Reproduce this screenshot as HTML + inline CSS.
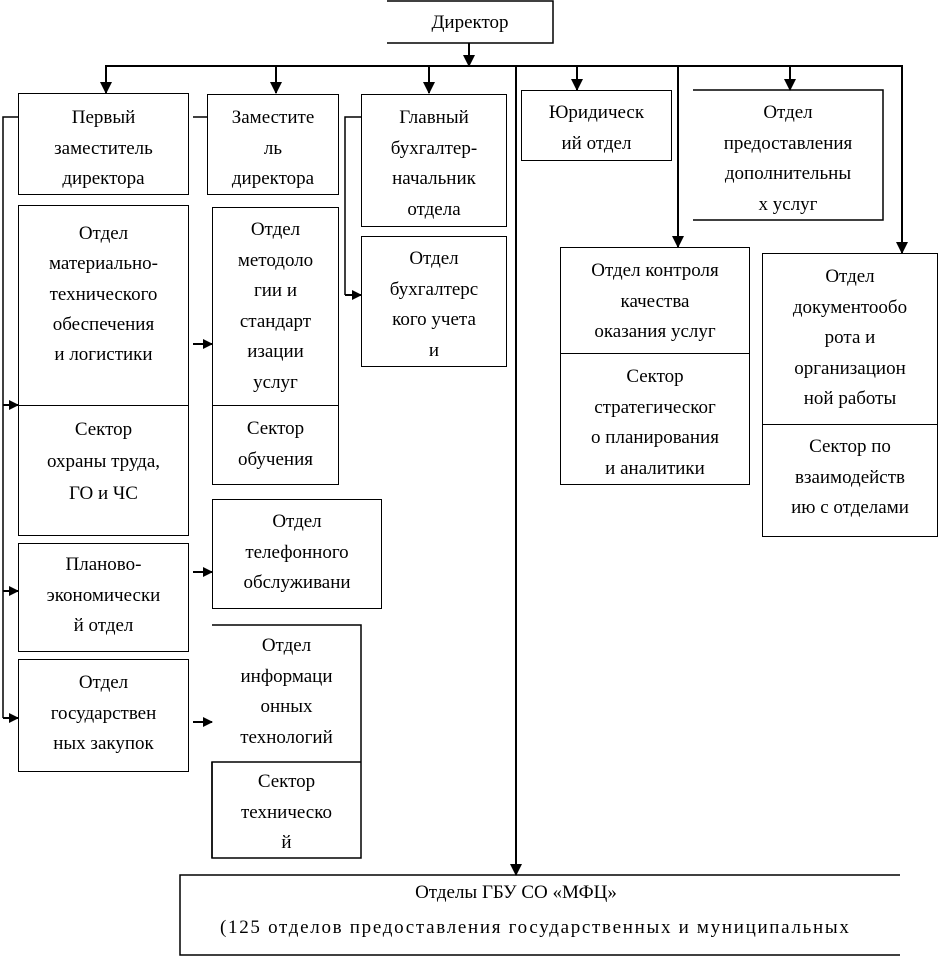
<!DOCTYPE html>
<html><head><meta charset="utf-8"><style>
body{margin:0;width:938px;height:956px;background:#fff;position:relative;overflow:hidden;font-family:"Liberation Serif",serif;color:#000}
.b{position:absolute;box-sizing:border-box;border:1.5px solid #000;text-align:center;font-size:19px;line-height:30.5px;white-space:nowrap;overflow:hidden}
.t{position:absolute;text-align:center;font-size:19px;line-height:30.5px;white-space:nowrap}
svg{position:absolute;left:0;top:0}
</style></head><body>
<svg width="938" height="956">
<defs><marker id="a" markerWidth="10" markerHeight="10" refX="9" refY="5" orient="auto" markerUnits="userSpaceOnUse"><path d="M0,0 L10,5 L0,10 z" fill="#000"/></marker>
<marker id="d" markerWidth="12" markerHeight="13" refX="11" refY="6" orient="auto" markerUnits="userSpaceOnUse"><path d="M0,0 L12,6 L0,12 z" fill="#000"/></marker></defs>
<g stroke="#000" stroke-width="2" fill="none">
<path d="M387,1 H553 V43 H387" stroke-width="1.5"/>
<line x1="469" y1="43" x2="469" y2="66" marker-end="url(#d)"/>
<line x1="105" y1="66" x2="903" y2="66"/>
<line x1="106" y1="66" x2="106" y2="93" marker-end="url(#d)"/>
<line x1="276" y1="66" x2="276" y2="93" marker-end="url(#d)"/>
<line x1="429" y1="66" x2="429" y2="93" marker-end="url(#d)"/>
<line x1="577" y1="66" x2="577" y2="90" marker-end="url(#d)"/>
<line x1="790" y1="66" x2="790" y2="90" marker-end="url(#d)"/>
<line x1="678" y1="66" x2="678" y2="247" marker-end="url(#d)"/>
<line x1="902" y1="66" x2="902" y2="253" marker-end="url(#d)"/>
<line x1="516" y1="66" x2="516" y2="875" marker-end="url(#d)"/>
<path d="M18,117 H3 V718" stroke-width="1.5"/>
<line x1="3" y1="405" x2="18" y2="405" marker-end="url(#a)"/>
<line x1="3" y1="591" x2="18" y2="591" marker-end="url(#a)"/>
<line x1="3" y1="718" x2="18" y2="718" marker-end="url(#a)"/>
<line x1="193" y1="117" x2="207" y2="117" stroke-width="1.5"/>
<line x1="193" y1="344" x2="212" y2="344" marker-end="url(#a)"/>
<line x1="193" y1="572" x2="212" y2="572" marker-end="url(#a)"/>
<line x1="193" y1="722" x2="212" y2="722" marker-end="url(#a)"/>
<path d="M361,117 H345 V295" stroke-width="1.5"/>
<line x1="345" y1="295" x2="361" y2="295" marker-end="url(#a)"/>
<path d="M693,90 H883 V220 H693" stroke-width="1.5"/>
<path d="M212,625 H361 V858 H212 V762 H361" stroke-width="1.5"/>
<line x1="212" y1="762" x2="212" y2="858" stroke-width="1.5"/>
<path d="M900,875 H180 V955 H900" stroke-width="1.5"/>
</g></svg>
<div class="t" style="left:387px;top:8px;width:166px">Директор</div>

<div class="b" style="left:18px;top:93px;width:171px;height:102px;padding-top:9px">Первый<br>заместитель<br>директора</div>
<div class="b" style="left:207px;top:94px;width:132px;height:101px;padding-top:8px">Заместите<br>ль<br>директора</div>
<div class="b" style="left:361px;top:94px;width:146px;height:133px;padding-top:8px">Главный<br>бухгалтер-<br>начальник<br>отдела</div>
<div class="b" style="left:361px;top:236px;width:146px;height:131px;padding-top:7px">Отдел<br>бухгалтерс<br>кого учета<br>и</div>

<div class="b" style="left:18px;top:205px;width:171px;height:331px;padding-top:13px;line-height:30.3px">Отдел<br>материально-<br>технического<br>обеспечения<br>и логистики</div>
<div class="b" style="left:18px;top:405px;width:171px;height:131px;padding-top:8px;line-height:32px">Сектор<br>охраны труда,<br>ГО и ЧС</div>
<div class="b" style="left:212px;top:207px;width:127px;height:278px;padding-top:7px">Отдел<br>методоло<br>гии и<br>стандарт<br>изации<br>услуг</div>
<div class="b" style="left:212px;top:405px;width:127px;height:80px;padding-top:8px">Сектор<br>обучения</div>

<div class="b" style="left:18px;top:543px;width:171px;height:109px;padding-top:6px">Планово-<br>экономически<br>й отдел</div>
<div class="b" style="left:18px;top:659px;width:171px;height:113px;padding-top:8px">Отдел<br>государствен<br>ных закупок</div>
<div class="b" style="left:212px;top:499px;width:170px;height:110px;padding-top:7px">Отдел<br>телефонного<br>обслуживани</div>
<div class="t" style="left:212px;top:631px;width:149px">Отдел<br>информаци<br>онных<br>технологий</div>
<div class="t" style="left:212px;top:767px;width:149px">Сектор<br>техническо<br>й</div>

<div class="b" style="left:521px;top:90px;width:151px;height:71px;padding-top:7px">Юридическ<br>ий отдел</div>
<div class="t" style="left:693px;top:98px;width:190px">Отдел<br>предоставления<br>дополнительны<br>х услуг</div>
<div class="b" style="left:560px;top:247px;width:190px;height:238px;padding-top:8px">Отдел контроля<br>качества<br>оказания услуг</div>
<div class="b" style="left:560px;top:353px;width:190px;height:132px;padding-top:8px">Сектор<br>стратегическог<br>о планирования<br>и аналитики</div>
<div class="b" style="left:762px;top:253px;width:176px;height:284px;padding-top:8px">Отдел<br>документообо<br>рота и<br>организацион<br>ной работы</div>
<div class="b" style="left:762px;top:424px;width:176px;height:113px;padding-top:7px">Сектор по<br>взаимодейств<br>ию с отделами</div>

<div class="t" style="left:316px;top:878px;width:400px;line-height:30px">Отделы ГБУ СО «МФЦ»</div>
<div class="t" style="left:220px;top:913px;width:642px;line-height:30px;letter-spacing:1.7px;text-align:left">(125 отделов предоставления государственных и муниципальных</div>
</body></html>
